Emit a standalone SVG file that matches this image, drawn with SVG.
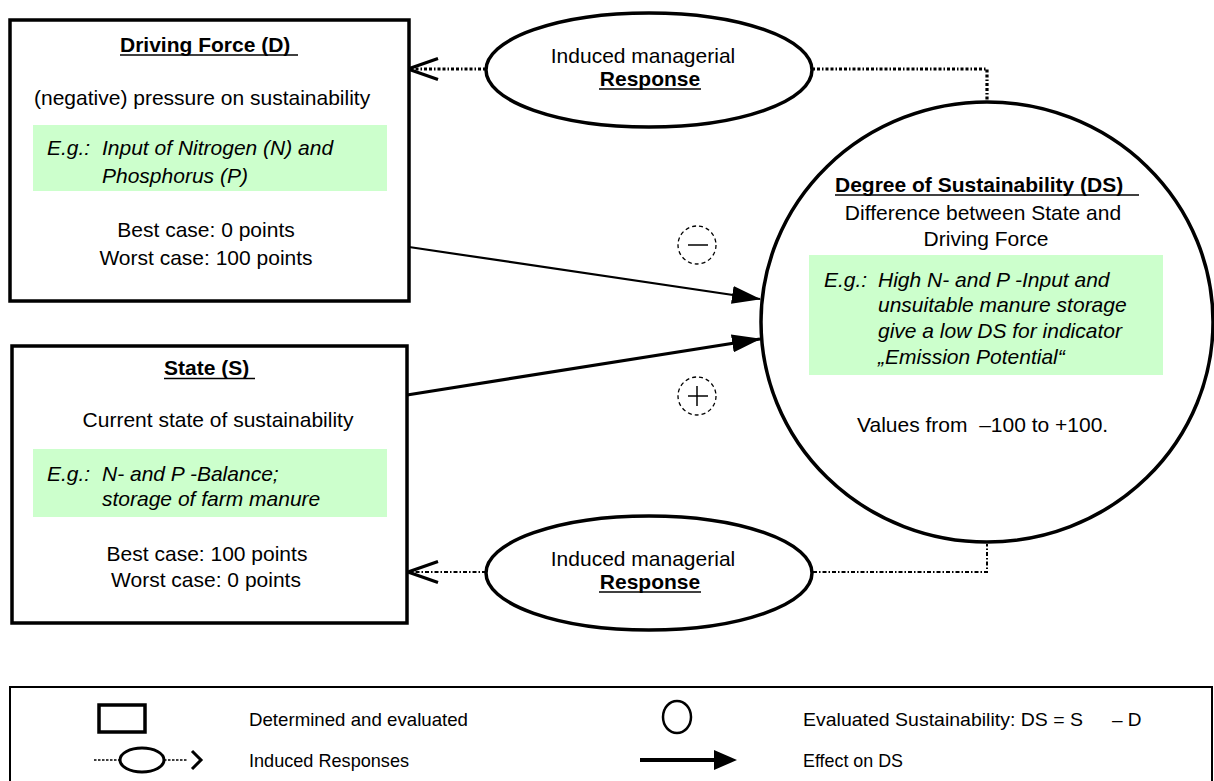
<svg xmlns="http://www.w3.org/2000/svg" width="1214" height="781" viewBox="0 0 1214 781">
<style>
text{font-family:"Liberation Sans",Arial,sans-serif;font-size:21px;fill:#000}
.b{font-weight:bold}
.i{font-style:italic}
.m{text-anchor:middle}
.lg{font-size:19px}
.box{fill:#fff;stroke:#000;stroke-width:3.5}
.green{fill:#ccffcc;stroke:none}
.ul{stroke:#000;stroke-width:1.6}
.shape{fill:#fff;stroke:#000;stroke-width:3.5}
.dotT{fill:none;stroke:#000;stroke-width:3.2;stroke-dasharray:3 2 3 2 1.5 2}
.dotB{fill:none;stroke:#000;stroke-width:2;stroke-dasharray:4 2 1.5 2}
.sign{fill:none;stroke:#000;stroke-width:1.3;stroke-dasharray:4 3}
</style>
<defs>
<marker id="open" viewBox="-33 -13 36 26" refX="0" refY="0" markerWidth="36" markerHeight="26" markerUnits="userSpaceOnUse" orient="auto" overflow="visible">
<path d="M-30,-10.5 L0,0 L-30,10.5" fill="none" stroke="#000" stroke-width="3.2"/>
</marker>
<marker id="solid" viewBox="0 0 29 18" refX="28" refY="9" markerWidth="29" markerHeight="18" markerUnits="userSpaceOnUse" orient="auto">
<path d="M0,0 L29,9 L0,18 z" fill="#000"/>
</marker>
</defs>

<g id="connectors">
<line x1="486" y1="69" x2="408" y2="69" class="dotT" marker-end="url(#open)"/>
<polyline points="812,69 987,69 987,100" class="dotT"/>
<line x1="486" y1="572" x2="408" y2="572" class="dotB" marker-end="url(#open)"/>
<polyline points="813,572 987,572 987,544" class="dotB"/>
<line x1="409" y1="247" x2="760" y2="299" stroke="#000" stroke-width="2.2" marker-end="url(#solid)"/>
<line x1="407" y1="395" x2="760" y2="339" stroke="#000" stroke-width="3.2" marker-end="url(#solid)"/>
</g>

<g id="sign-minus">
<circle cx="697" cy="245" r="19" class="sign"/>
<line x1="688" y1="245" x2="708" y2="245" stroke="#000" stroke-width="1.5"/>
</g>
<g id="sign-plus">
<circle cx="697" cy="396" r="19" class="sign"/>
<line x1="688" y1="396" x2="708" y2="396" stroke="#000" stroke-width="1.5"/>
<line x1="697" y1="386" x2="697" y2="406" stroke="#000" stroke-width="1.5"/>
</g>

<g id="driving-force">
<rect x="10" y="20" width="399" height="281" class="box"/>
<text x="120" y="52" class="b">Driving Force (D)</text>
<line x1="120" y1="55" x2="298" y2="55" class="ul"/>
<text x="34" y="105">(negative) pressure on sustainability</text>
<rect x="33" y="125" width="354" height="66" class="green"/>
<text x="47" y="155" class="i">E.g.:</text>
<text x="102" y="155" class="i">Input of Nitrogen (N) and</text>
<text x="102" y="183" class="i">Phosphorus (P)</text>
<text x="206" y="237" class="m">Best case: 0 points</text>
<text x="206" y="265" class="m">Worst case: 100 points</text>
</g>

<g id="state">
<rect x="12" y="346" width="395" height="277" class="box"/>
<text x="164" y="375" class="b">State (S)</text>
<line x1="164" y1="378.5" x2="255" y2="378.5" class="ul"/>
<text x="218" y="427" class="m">Current state of sustainability</text>
<rect x="33" y="449" width="354" height="68" class="green"/>
<text x="47" y="481" class="i">E.g.:</text>
<text x="102" y="481" class="i">N- and P -Balance;</text>
<text x="102" y="506" class="i">storage of farm manure</text>
<text x="207" y="561" class="m">Best case: 100 points</text>
<text x="206" y="587" class="m">Worst case: 0 points</text>
</g>

<g id="response-top">
<ellipse cx="649" cy="70" rx="163" ry="57" class="shape"/>
<text x="643" y="63" class="m">Induced managerial</text>
<text x="650" y="86" class="m b">Response</text>
<line x1="599" y1="89" x2="701" y2="89" class="ul"/>
</g>

<g id="response-bottom">
<ellipse cx="649" cy="573" rx="163" ry="57" class="shape"/>
<text x="643" y="566" class="m">Induced managerial</text>
<text x="650" y="589" class="m b">Response</text>
<line x1="599" y1="592" x2="701" y2="592" class="ul"/>
</g>

<g id="degree-of-sustainability">
<ellipse cx="987" cy="322" rx="226" ry="220" class="shape"/>
<text x="835" y="192" class="b">Degree of Sustainability (DS)</text>
<line x1="835" y1="195" x2="1139" y2="195" class="ul"/>
<text x="983" y="220" class="m">Difference between State and</text>
<text x="986" y="246" class="m">Driving Force</text>
<rect x="809" y="255" width="354" height="120" class="green"/>
<text x="824" y="287" class="i">E.g.:</text>
<text x="878" y="287" class="i">High N- and P -Input and</text>
<text x="878" y="312" class="i">unsuitable manure storage</text>
<text x="878" y="338" class="i">give a low DS for indicator</text>
<text x="878" y="364" class="i">„Emission Potential“</text>
<text x="857" y="432" xml:space="preserve">Values from  –100 to +100.</text>
</g>

<g id="legend">
<rect x="10" y="687" width="1202" height="110" fill="#fff" stroke="#000" stroke-width="2"/>
<rect x="99" y="705" width="46" height="27" fill="#fff" stroke="#000" stroke-width="3.5"/>
<text x="249" y="726" class="lg" textLength="219" lengthAdjust="spacingAndGlyphs">Determined and evaluated</text>
<line x1="94" y1="760" x2="120" y2="760" stroke="#000" stroke-width="1.5" stroke-dasharray="2.5 1.5"/>
<ellipse cx="142" cy="760" rx="22" ry="12" fill="#fff" stroke="#000" stroke-width="3"/>
<line x1="164" y1="760" x2="188" y2="760" stroke="#000" stroke-width="1.5" stroke-dasharray="2.5 1.5"/>
<polyline points="192,751 201,760 192,769" fill="none" stroke="#000" stroke-width="3"/>
<text x="249" y="767" class="lg" textLength="160" lengthAdjust="spacingAndGlyphs">Induced Responses</text>
<ellipse cx="677" cy="717" rx="14" ry="16" fill="#fff" stroke="#000" stroke-width="2.5"/>
<text x="803" y="726" class="lg" xml:space="preserve"><tspan textLength="280" lengthAdjust="spacingAndGlyphs">Evaluated Sustainability: DS = S</tspan><tspan x="1112">– D</tspan></text>
<line x1="640" y1="760" x2="716" y2="760" stroke="#000" stroke-width="4"/>
<path d="M714,750 L737,760 L714,770 z" fill="#000"/>
<text x="803" y="767" class="lg" textLength="100" lengthAdjust="spacingAndGlyphs">Effect on DS</text>
</g>
</svg>
